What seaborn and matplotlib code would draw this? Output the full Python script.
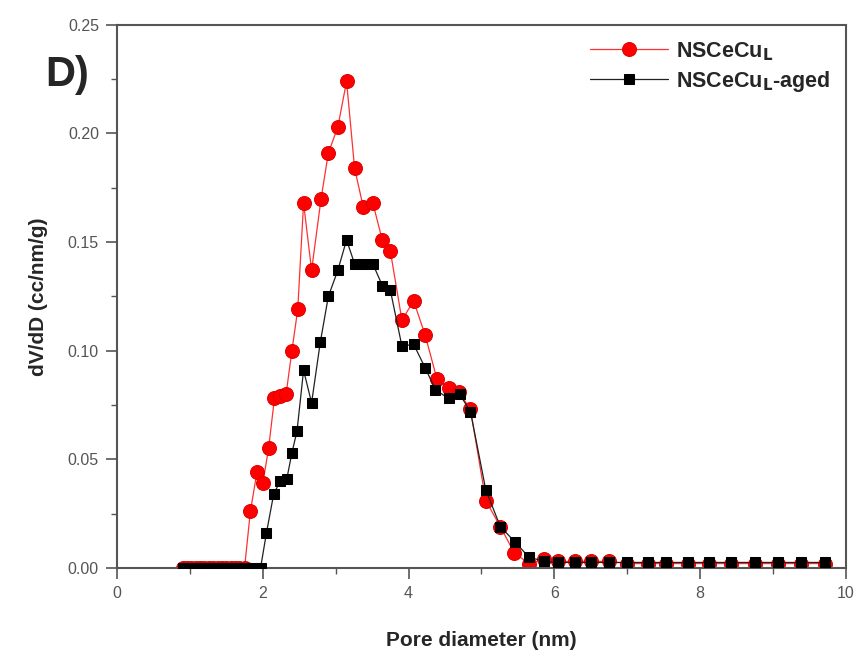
import matplotlib
matplotlib.use("Agg")
import matplotlib.pyplot as plt
import seaborn as sns
import pandas as pd

# NSCeCu_L (red circles)
red_x = [0.90, 0.96, 1.02, 1.08, 1.14, 1.20, 1.26, 1.32, 1.38, 1.44, 1.50, 1.56, 1.62, 1.68, 1.75,
         1.83, 1.92, 2.00, 2.08, 2.16, 2.24, 2.32, 2.40, 2.48, 2.56, 2.67, 2.80, 2.90, 3.03, 3.15,
         3.26, 3.38, 3.51, 3.64, 3.75, 3.91, 4.07, 4.23, 4.39, 4.55, 4.69, 4.85, 5.06, 5.26, 5.45,
         5.65, 5.86, 6.05, 6.28, 6.51, 6.75, 7.00, 7.28, 7.53, 7.83, 8.13, 8.43, 8.75, 9.07, 9.38, 9.71]
red_y = [0.0, 0.0, 0.0, 0.0, 0.0, 0.0, 0.0, 0.0, 0.0, 0.0, 0.0, 0.0, 0.0, 0.0, 0.0,
         0.026, 0.044, 0.039, 0.055, 0.078, 0.079, 0.080, 0.100, 0.119, 0.168, 0.137, 0.170, 0.191, 0.203, 0.224,
         0.184, 0.166, 0.168, 0.151, 0.146, 0.114, 0.123, 0.107, 0.087, 0.083, 0.081, 0.073, 0.031, 0.019, 0.007,
         0.002, 0.004, 0.003, 0.003, 0.003, 0.003, 0.002, 0.002, 0.002, 0.002, 0.002, 0.002, 0.002, 0.002, 0.002, 0.002]

# NSCeCu_L-aged (black squares)
blk_x = [0.90, 0.96, 1.02, 1.08, 1.14, 1.20, 1.26, 1.32, 1.38, 1.44, 1.50, 1.56, 1.62, 1.68, 1.75,
         1.83, 1.90, 1.97, 2.05, 2.15, 2.24, 2.33, 2.40, 2.47, 2.56, 2.67, 2.79, 2.90, 3.03, 3.15,
         3.26, 3.38, 3.51, 3.64, 3.75, 3.91, 4.07, 4.23, 4.37, 4.55, 4.70, 4.85, 5.06, 5.26, 5.46,
         5.65, 5.86, 6.05, 6.28, 6.51, 6.75, 7.00, 7.28, 7.53, 7.83, 8.13, 8.43, 8.75, 9.07, 9.38, 9.71]
blk_y = [0.0, 0.0, 0.0, 0.0, 0.0, 0.0, 0.0, 0.0, 0.0, 0.0, 0.0, 0.0, 0.0, 0.0, 0.0,
         0.0, 0.0, 0.0, 0.016, 0.034, 0.040, 0.041, 0.053, 0.063, 0.091, 0.076, 0.104, 0.125, 0.137, 0.151,
         0.140, 0.140, 0.140, 0.130, 0.128, 0.102, 0.103, 0.092, 0.082, 0.078, 0.080, 0.072, 0.036, 0.019, 0.012,
         0.005, 0.003, 0.0025, 0.0025, 0.0025, 0.0025, 0.0025, 0.0025, 0.0025, 0.0025, 0.0025, 0.0025, 0.0025, 0.0025, 0.0025, 0.0025]

x_ticks = [0, 2, 4, 6, 8, 10]
y_ticks = [0.00, 0.05, 0.10, 0.15, 0.20, 0.25]
y_tick_labels = ["0.00", "0.05", "0.10", "0.15", "0.20", "0.25"]

sns.set_style("white")
plt.rcParams['font.family'] = ['Liberation Sans', 'DejaVu Sans']

fig = plt.figure(figsize=(8.63, 6.55), dpi=100)
ax = fig.add_axes([0.1356, 0.133, 0.8444, 0.829])

df_r = pd.DataFrame({"x": red_x, "y": red_y})
df_b = pd.DataFrame({"x": blk_x, "y": blk_y})

sns.lineplot(data=df_r, x="x", y="y", ax=ax, color="#ff3030", marker="o", markersize=10,
             markeredgecolor="#e00000", markerfacecolor="#ff0000", linewidth=0.9,
             sort=False, estimator=None, label=r"NSCeCu$_\mathbf{L}$", zorder=2)
sns.lineplot(data=df_b, x="x", y="y", ax=ax, color="#202020", marker="s", markersize=7.5,
             markeredgecolor="black", markerfacecolor="black", linewidth=0.9,
             sort=False, estimator=None, label=r"NSCeCu$_\mathbf{L}$-aged", zorder=3)

ax.set_xlim(0, 10)
ax.set_ylim(0, 0.25)
ax.set_xticks(x_ticks)
ax.set_yticks(y_ticks)
ax.set_yticklabels(y_tick_labels)
ax.set_xticks([1, 3, 5, 7, 9], minor=True)
ax.set_yticks([0.025, 0.075, 0.125, 0.175, 0.225], minor=True)
ax.tick_params(axis='both', which='major', direction='out', length=8, width=1.2, pad=5,
               color="#555555", labelsize=11.5, labelcolor="#555555", left=True, bottom=True)
ax.tick_params(axis='both', which='minor', direction='out', length=4, width=1.0,
               color="#555555", left=True, bottom=True)
for s in ax.spines.values():
    s.set_color("#555555")
    s.set_linewidth(1.5)

ax.set_xlabel("Pore diameter (nm)", fontsize=15, fontweight="bold", labelpad=22)
ax.set_ylabel("dV/dD (cc/nm/g)", fontsize=15, fontweight="bold", labelpad=14)

leg = ax.legend(loc="upper right", frameon=False, prop={"weight": "bold", "size": 15.5},
                handlelength=3.6, handletextpad=0.4, borderaxespad=0.3, labelspacing=0.3)

fig.text(0.052, 0.885, "D)", fontsize=30, fontweight="bold", va="center")

fig.savefig("out.png", dpi=100)
